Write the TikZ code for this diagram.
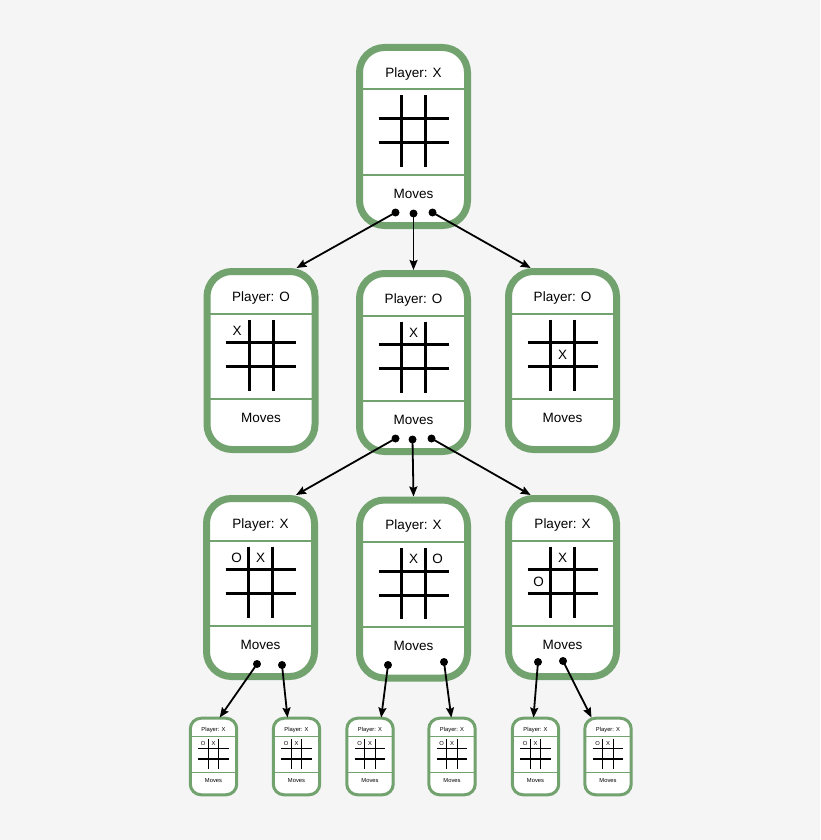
\documentclass[tikz,border=0pt]{standalone}
\usepackage{fontspec}
\setmainfont{Liberation Sans}
\usetikzlibrary{arrows.meta,shadows}

\definecolor{boardgreen}{RGB}{114,163,111}
\definecolor{paper}{RGB}{245,245,245}

% one game state: name, x, y, scale, player, marks
\newcommand{\board}[6]{%
  \def\bw{#4}%
  \begin{scope}[shift={(#2,#3)},scale=#4,transform shape]
    \node[board] (#1) at (0,0) {};
    \draw[divider] (-51,-47) -- (51,-47) (-51,38) -- (51,38);
    \node[boardtext] at (0,-62.5) {Player: #5};
    \node[boardtext] at (0,57) {Moves};
    \draw[gridline] (-12,-41) -- (-12,30) (12,-41) -- (12,30)
                    (-35,-18) -- (35,-18) (-35,6) -- (35,6);
    #6
  \end{scope}}

\begin{document}
\begin{tikzpicture}[x=1pt,y=-1pt,>={Stealth[length=10pt,width=8pt,inset=1.5pt]},
    board/.style={rectangle,rounded corners=\bw*25pt,draw=boardgreen,line width=\bw*7pt,
      fill=white,minimum width=108pt,minimum height=178pt,inner sep=0pt,
      drop shadow={shadow xshift=\bw*2.5pt,shadow yshift=-\bw*2.5pt,opacity=.25}},
    divider/.style={draw=boardgreen,line width=\bw*2pt},
    gridline/.style={line width=\bw*3pt},
    boardtext/.style={font=\fontsize{13.5}{16}\selectfont,inner sep=0pt},
    dot/.style={circle,fill=black,inner sep=0pt,minimum size=8pt},
    move/.style={->,line width=1.8pt}]
  \fill[paper] (0,0) rectangle (820,840);
  \useasboundingbox (0,0) rectangle (820,840);

  % root
  \board{top}{413.5}{136.5}{1}{X}{}
  % after the first move
  \board{o1}{261}{360.5}{1}{O}{\node[boardtext] at (-24,-30) {X};}
  \board{o2}{413.5}{362.5}{1}{O}{\node[boardtext] at (0,-30) {X};}
  \board{o3}{562.5}{360.5}{1}{O}{\node[boardtext] at (0,-6) {X};}
  % after the second move
  \board{x1}{260.5}{587.5}{1}{X}{\node[boardtext] at (-24,-30) {O}; \node[boardtext] at (0,-30) {X};}
  \board{x2}{413.5}{589}{1}{X}{\node[boardtext] at (0,-30) {X}; \node[boardtext] at (24,-30) {O};}
  \board{x3}{562.5}{587.5}{1}{X}{\node[boardtext] at (0,-30) {X}; \node[boardtext] at (-24,-6) {O};}
  % leaves
  \board{s1}{213.5}{756.5}{.43}{X}{\node[boardtext] at (-24,-30) {O}; \node[boardtext] at (0,-30) {X};}
  \board{s2}{296.5}{756.5}{.43}{X}{\node[boardtext] at (-24,-30) {O}; \node[boardtext] at (0,-30) {X};}
  \board{s3}{370}{756.5}{.43}{X}{\node[boardtext] at (-24,-30) {O}; \node[boardtext] at (0,-30) {X};}
  \board{s4}{452}{756.5}{.43}{X}{\node[boardtext] at (-24,-30) {O}; \node[boardtext] at (0,-30) {X};}
  \board{s5}{535.5}{756.5}{.43}{X}{\node[boardtext] at (-24,-30) {O}; \node[boardtext] at (0,-30) {X};}
  \board{s6}{608}{756.5}{.43}{X}{\node[boardtext] at (-24,-30) {O}; \node[boardtext] at (0,-30) {X};}

  % move handles
  \node[dot] (top-a) at ([shift={(-18,76)}]top) {};
  \node[dot] (top-b) at ([shift={(0,77)}]top) {};
  \node[dot] (top-c) at ([shift={(19,76)}]top) {};
  \node[dot] (o2-a) at ([shift={(-18,76)}]o2) {};
  \node[dot] (o2-b) at ([shift={(-1,77)}]o2) {};
  \node[dot] (o2-c) at ([shift={(18,76)}]o2) {};
  \node[dot] (x1-a) at ([shift={(-3.5,76.5)}]x1) {};
  \node[dot] (x1-b) at ([shift={(21.5,77.5)}]x1) {};
  \node[dot] (x2-a) at ([shift={(-25.5,76)}]x2) {};
  \node[dot] (x2-b) at ([shift={(30.5,73)}]x2) {};
  \node[dot] (x3-a) at ([shift={(-24.5,74.5)}]x3) {};
  \node[dot] (x3-b) at ([shift={(0.5,73.5)}]x3) {};

  \path[move]
    (top-a.center) edge (o1.69)
    (top-b.center) edge (o2.north)
    (top-c.center) edge (o3.109)
    (o2-a.center) edge (x1.69)
    (o2-b.center) edge (x2.north)
    (o2-c.center) edge (x3.109)
    (x1-a.center) edge (s1.81)
    (x1-b.center) edge (s2.103)
    (x2-a.center) edge (s3.74)
    (x2-b.center) edge (s4.91)
    (x3-a.center) edge (s5.93)
    (x3-b.center) edge (s6.113);
\end{tikzpicture}
\end{document}
